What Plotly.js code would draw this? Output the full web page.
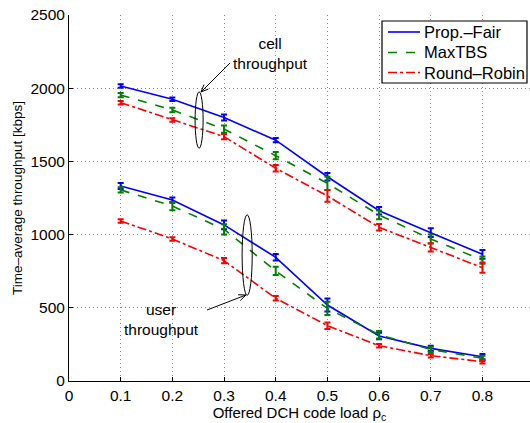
<!DOCTYPE html>
<html><head><meta charset="utf-8">
<script src="https://cdn.plot.ly/plotly-3.0.1.min.js"></script>
<style>html,body{margin:0;padding:0;background:#fff}#c{width:530px;height:423px}</style>
</head><body><div id="c"></div>
<script>
const loads = [0.1,0.2,0.3,0.4,0.5,0.6,0.7,0.8];
const cellPF  = [2015,1925,1800,1645,1395,1163,1013,865];
const cellMax = [1953,1851,1721,1539,1350,1134,970,826];
const cellRR  = [1901,1783,1669,1453,1264,1050,913,774];
const userPF  = [1332,1236,1066,845,519,307,223,166];
const userMax = [1305,1195,1036,752,496,316,216,155];
const userRR  = [1093,970,822,565,378,241,173,132];
const errCellPF  = [12,12,20,15,25,25,30,30];
const errCellMax = [15,15,25,25,45,30,30,25];
const errCellRR  = [12,12,18,22,40,22,28,35];
const errUserPF  = [20,18,30,22,45,22,18,18];
const errUserMax = [18,28,35,28,45,25,18,18];
const errUserRR  = [12,12,18,15,22,12,12,12];
const xTicks = ['0','0.1','0.2','0.3','0.4','0.5','0.6','0.7','0.8'];

const names = ['Prop.\u2013Fair','MaxTBS','Round\u2013Robin'];
const colors = ['#0000ff','#008000','#ff0000'];
const dashes = ['solid','dash','dashdot'];

function tr(y, err, i){
  return {x: loads, y: y, type:'scatter', mode:'lines', name: names[i], showlegend: false,
    line:{color:colors[i], width:1.6, dash:dashes[i]},
    error_y:{type:'data', array:err, visible:true, color:colors[i], thickness:2, width:3}};
}
const data = [
  tr(cellPF, errCellPF, 0), tr(cellMax, errCellMax, 1), tr(cellRR, errCellRR, 2),
  tr(userPF, errUserPF, 0), tr(userMax, errUserMax, 1), tr(userRR, errUserRR, 2)
];
const f = 'Liberation Sans, Arial, sans-serif';
// pixel -> paper helpers (plot area: x 69..530, y 15..381)
const L = 69, T = 15, W = 461, H = 366;
const px = v => (v - L) / W;
const py = v => (T + H - v) / H;

const shapes = [
  {type:'circle', xref:'x', yref:'y', x0:0.2440, x1:0.2595, y0:1590, y1:1975, line:{color:'#000', width:1}},
  {type:'circle', xref:'x', yref:'y', x0:0.3350, x1:0.3545, y0:585, y1:1135, line:{color:'#000', width:1}}
];
function arrow(x1, y1, x2, y2){
  shapes.push({type:'line', xref:'paper', yref:'paper', x0:px(x1), y0:py(y1), x1:px(x2), y1:py(y2), line:{color:'#000', width:1}});
  const dx = x2 - x1, dy = y2 - y1, len = Math.hypot(dx, dy);
  const ux = dx/len, uy = dy/len, a = 0.4, hl = 8;
  const bx1 = x2 - hl*(ux*Math.cos(a) - uy*Math.sin(a)), by1 = y2 - hl*(uy*Math.cos(a) + ux*Math.sin(a));
  const bx2 = x2 - hl*(ux*Math.cos(a) + uy*Math.sin(a)), by2 = y2 - hl*(uy*Math.cos(a) - ux*Math.sin(a));
  shapes.push({type:'path', xref:'paper', yref:'paper',
    path:`M${px(bx1)},${py(by1)} L${px(x2)},${py(y2)} L${px(bx2)},${py(by2)}`, line:{color:'#000', width:1}});
}
arrow(230, 63, 201, 92);
arrow(207, 310, 246, 295);

// legend box drawn by hand
shapes.push({type:'rect', xref:'paper', yref:'paper', x0:px(382), x1:px(527), y0:py(21), y1:py(83),
  fillcolor:'#fff', line:{color:'#000', width:1.2}, layer:'above'});
const rowY = [32, 52.5, 72.5];
const annotations = [
  {xref:'paper', yref:'paper', x:px(270), y:py(53), text:'cell<br>throughput', showarrow:false,
    font:{size:15.5, family:f}, xanchor:'center', yanchor:'middle'},
  {xref:'paper', yref:'paper', x:px(161), y:py(319), text:'user<br>throughput', showarrow:false,
    font:{size:15.5, family:f}, xanchor:'center', yanchor:'middle'}
];
for (let i = 0; i < 3; i++) {
  shapes.push({type:'line', xref:'paper', yref:'paper', x0:px(388), x1:px(420), y0:py(rowY[i]), y1:py(rowY[i]),
    line:{color:colors[i], width:1.6, dash:dashes[i]}, layer:'above'});
  annotations.push({xref:'paper', yref:'paper', x:px(422), y:py(rowY[i]), text:names[i], showarrow:false,
    font:{size:16.5, family:f}, xanchor:'left', yanchor:'middle'});
}

const layout = {
  width:530, height:423, margin:{l:L, r:0, t:T, b:42},
  paper_bgcolor:'#fff', plot_bgcolor:'#fff',
  font:{family:f, size:15, color:'#000'},
  showlegend:false,
  xaxis:{range:[0,0.892], tickvals:[0,0.1,0.2,0.3,0.4,0.5,0.6,0.7,0.8], ticktext:xTicks,
    showline:true, linecolor:'#000', linewidth:1, ticks:'inside', ticklen:4, tickcolor:'#000',
    showgrid:true, gridcolor:'#888', griddash:'1px,3px', gridwidth:1, zeroline:false,
    tickfont:{size:15.5}, title:{text:'Offered DCH code load \u03c1<sub>c</sub>', font:{size:15}, standoff:2}},
  yaxis:{range:[0,2500], tickvals:[0,500,1000,1500,2000,2500],
    showline:true, linecolor:'#000', linewidth:1, ticks:'inside', ticklen:4, tickcolor:'#000',
    showgrid:true, gridcolor:'#888', griddash:'1px,3px', gridwidth:1, zeroline:false,
    tickfont:{size:15.5}, title:{text:'Time\u2013average throughput [kbps]', font:{size:13.5}, standoff:4}},
  shapes: shapes,
  annotations: annotations
};
Plotly.newPlot('c', data, layout, {displayModeBar:false, staticPlot:true});
</script></body></html>
